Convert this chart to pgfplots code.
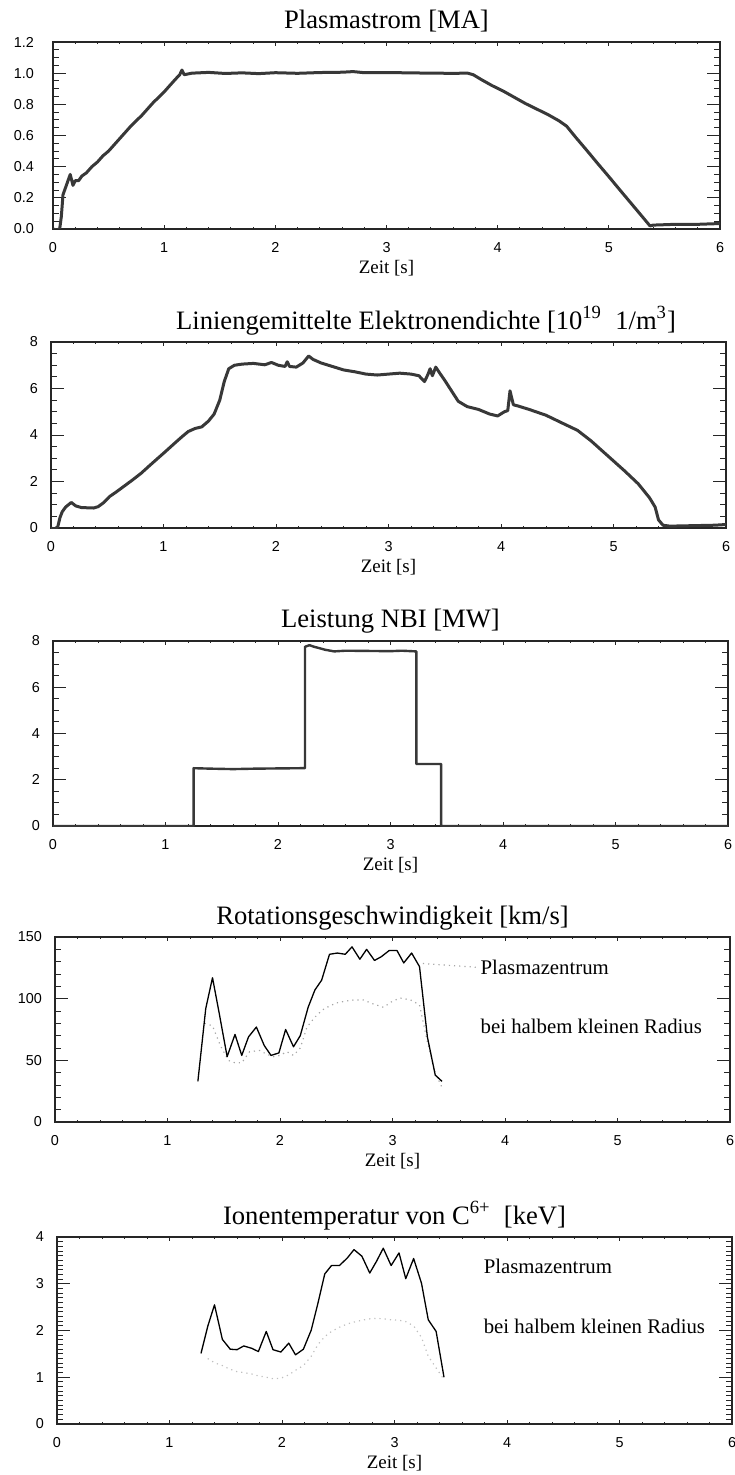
\documentclass[border=0pt]{standalone}
\usepackage{fontspec}
\setmainfont{Liberation Serif}
\newfontfamily\sansf{Liberation Sans}
\usepackage{pgfplots}
\pgfplotsset{compat=1.18}

\newcommand\tickfont{\sansf\fontsize{7.2}{8}\selectfont}
\newcommand\titlefont{\fontsize{13.3}{16}\selectfont}
\newcommand\labfont{\fontsize{9.5}{11}\selectfont}
\newcommand\notefont{\fontsize{10.4}{12}\selectfont}

\pgfplotsset{
  panel/.style={
    scale only axis,
    xmin=0, xmax=6,
    xtick={0,1,2,3,4,5,6},
    minor x tick num=4,
    tick align=inside,
    axis line style={line width=0.7pt, black!85},
    every tick/.style={black!85, line width=0.5pt},
    xtick style={/pgfplots/major tick length=2pt, /pgfplots/minor tick length=1pt},
    ytick style={/pgfplots/major tick length=6.5pt, /pgfplots/minor tick length=3pt},
    tick label style={font=\tickfont},
    /pgf/number format/assume math mode=true,
    xticklabel style={anchor=base, yshift=-11.6pt},
    yticklabel style={anchor=east, xshift=-3pt},
    every axis title shift=0pt,
    title style={at={(0.5,1)}, anchor=base, yshift=6.5pt, font=\titlefont},
    xlabel={Zeit [s]},
    xlabel style={at={(axis description cs:0.5,0)}, anchor=center, yshift=-19.5pt, font=\labfont},
  },
  trace/.style={black!78, line width=1.5pt, line join=round},
  thin trace/.style={black, line width=0.65pt, line join=round},
  faint trace/.style={black!35, line width=0.6pt, dotted},
}

\begin{document}
\begin{tikzpicture}
\useasboundingbox (0,0) rectangle (367pt,-737.5pt);

% Plasmastrom
\begin{axis}[panel,
  at={(26.5pt,-114.5pt)}, anchor=south west, width=333.5pt, height=93.5pt,
  ymin=0, ymax=1.2, ytick={0,0.2,0.4,0.6,0.8,1.0,1.2}, minor y tick num=3,
  yticklabel style={/pgf/number format/fixed, /pgf/number format/fixed zerofill, /pgf/number format/precision=1, xshift=-3pt},
  title={Plasmastrom [MA]}]
\addplot[trace] coordinates {
(0.00,0.000) (0.03,-0.006) (0.06,0.000) (0.075,0.08) (0.09,0.22) (0.11,0.26)
(0.13,0.30) (0.155,0.35) (0.18,0.28) (0.20,0.31) (0.23,0.31) (0.26,0.34)
(0.30,0.36) (0.35,0.40) (0.40,0.43) (0.45,0.47) (0.50,0.50) (0.55,0.54)
(0.60,0.58) (0.65,0.62) (0.70,0.66) (0.75,0.695) (0.80,0.73) (0.85,0.77)
(0.90,0.81) (0.95,0.845) (1.00,0.88) (1.05,0.92) (1.10,0.96) (1.14,0.99)
(1.16,1.02) (1.18,0.99) (1.25,1.00) (1.40,1.005) (1.55,0.998) (1.70,1.002)
(1.85,0.997) (2.00,1.003) (2.20,0.999) (2.40,1.004) (2.60,1.006) (2.70,1.01)
(2.80,1.003) (3.00,1.004) (3.20,1.002) (3.40,1.000) (3.60,0.999) (3.73,1.000)
(3.78,0.99) (3.85,0.96) (3.95,0.92) (4.05,0.885) (4.15,0.845) (4.25,0.805)
(4.35,0.77) (4.45,0.735) (4.55,0.695) (4.62,0.66) (4.70,0.59) (4.80,0.506)
(4.90,0.42) (5.00,0.336) (5.10,0.25) (5.20,0.165) (5.30,0.08) (5.37,0.02)
(5.40,0.025) (5.60,0.03) (5.80,0.03) (6.00,0.035)
};
\end{axis}

% Elektronendichte
\begin{axis}[panel,
  at={(25.5pt,-264pt)}, anchor=south west, width=337.5pt, height=93pt,
  ymin=0, ymax=8, ytick={0,2,4,6,8}, minor y tick num=3,
  title style={xshift=18.75pt},
  title={Liniengemittelte Elektronendichte [10\textsuperscript{19}\ \ 1/m\textsuperscript{3}]}]
\addplot[trace] coordinates {
(0.00,0.00) (0.03,-0.05) (0.06,0.05) (0.08,0.45) (0.10,0.70) (0.13,0.90)
(0.18,1.10) (0.22,0.95) (0.27,0.88) (0.32,0.87) (0.38,0.86) (0.42,0.92)
(0.47,1.10) (0.52,1.35) (0.58,1.55) (0.65,1.80) (0.72,2.05) (0.80,2.35)
(0.88,2.70) (0.95,3.00) (1.02,3.30) (1.10,3.65) (1.17,3.95) (1.22,4.15)
(1.28,4.28) (1.34,4.35) (1.40,4.60) (1.45,4.90) (1.50,5.50) (1.54,6.30)
(1.58,6.85) (1.63,7.00) (1.70,7.05) (1.80,7.08) (1.90,7.02) (1.96,7.12)
(2.02,7.00) (2.08,6.95) (2.10,7.15) (2.12,6.95) (2.18,6.92) (2.24,7.10)
(2.29,7.40) (2.33,7.25) (2.40,7.10) (2.50,6.95) (2.60,6.80) (2.70,6.72)
(2.80,6.62) (2.90,6.58) (3.00,6.62) (3.10,6.66) (3.20,6.62) (3.27,6.55)
(3.32,6.30) (3.35,6.60) (3.37,6.85) (3.39,6.55) (3.42,6.92) (3.45,6.70)
(3.50,6.35) (3.56,5.90) (3.62,5.45) (3.70,5.22) (3.80,5.10) (3.90,4.90)
(3.97,4.82) (4.03,5.00) (4.06,5.05) (4.08,5.90) (4.11,5.30) (4.15,5.25)
(4.25,5.10) (4.40,4.85) (4.55,4.50) (4.68,4.20) (4.80,3.75) (4.95,3.10)
(5.10,2.45) (5.22,1.90) (5.32,1.30) (5.37,0.90) (5.40,0.35) (5.44,0.12)
(5.50,0.08) (5.70,0.10) (5.90,0.12) (6.00,0.15)
};
\end{axis}

% Leistung NBI
\begin{axis}[panel,
  at={(26.5pt,-413pt)}, anchor=south west, width=337.5pt, height=92.5pt,
  ymin=0, ymax=8, ytick={0,2,4,6,8}, minor y tick num=3,
  title={Leistung NBI [MW]}]
\addplot[trace, line width=1.2pt] coordinates {
(0,0) (1.25,0) (1.25,2.50) (1.40,2.48) (1.60,2.46) (1.80,2.48) (2.00,2.49)
(2.20,2.50) (2.24,2.50) (2.24,7.75) (2.28,7.82) (2.32,7.75) (2.36,7.70)
(2.42,7.62) (2.50,7.55) (2.60,7.58) (2.80,7.57) (3.00,7.56) (3.10,7.58)
(3.23,7.55) (3.23,2.68) (3.45,2.68) (3.45,0) (6,0)
};
\end{axis}

% Rotationsgeschwindigkeit
\begin{axis}[panel,
  at={(27.5pt,-561pt)}, anchor=south west, width=337.5pt, height=92.5pt,
  ymin=0, ymax=150, ytick={0,50,100,150}, minor y tick num=4,
  title={Rotationsgeschwindigkeit [km/s]}]
% bei halbem kleinen Radius
\addplot[faint trace] coordinates {
(1.33,80) (1.40,78) (1.47,62) (1.54,50) (1.60,48) (1.66,48) (1.73,57)
(1.82,58) (1.88,55) (1.94,53) (2.00,54) (2.06,57) (2.12,54) (2.18,60)
(2.24,77) (2.31,85) (2.38,91) (2.44,94) (2.50,96.5) (2.58,98) (2.66,99)
(2.74,99) (2.82,96) (2.92,93) (3.00,98) (3.07,100.5) (3.16,99) (3.24,95)
(3.31,65) (3.38,40) (3.44,28)
};
% Plasmazentrum
\addplot[thin trace] coordinates {
(1.27,33) (1.34,92) (1.40,117) (1.46,88) (1.53,53) (1.60,71) (1.66,54)
(1.72,69) (1.79,77) (1.86,62) (1.92,54) (1.99,56) (2.05,75) (2.12,61)
(2.18,70) (2.25,93) (2.31,107) (2.37,115) (2.44,136) (2.51,137) (2.58,136)
(2.64,142) (2.71,132) (2.77,140) (2.84,131) (2.90,134) (2.97,139) (3.04,139)
(3.10,129) (3.17,137) (3.24,126) (3.31,69) (3.38,38) (3.44,33)
};
% leader to the label
\addplot[faint trace] coordinates {(3.27,128.5) (3.74,125.5)};
\node[anchor=base west, inner sep=0pt, font=\notefont] at (axis cs:3.78,119.7) {Plasmazentrum};
\node[anchor=base west, inner sep=0pt, font=\notefont] at (axis cs:3.78,72) {bei halbem kleinen Radius};
\end{axis}

% Ionentemperatur
\begin{axis}[panel,
  at={(28.5pt,-712pt)}, anchor=south west, width=337.5pt, height=93.5pt,
  ymin=0, ymax=4, ytick={0,1,2,3,4}, minor y tick num=9,
  title={Ionentemperatur von C\textsuperscript{6+}\ \ [keV]}]
% bei halbem kleinen Radius
\addplot[faint trace, black!25] coordinates {
(1.34,1.40) (1.40,1.31) (1.47,1.25) (1.53,1.18) (1.60,1.12) (1.66,1.10)
(1.73,1.07) (1.79,1.03) (1.86,1.00) (1.92,0.97) (1.99,0.98) (2.06,1.05)
(2.12,1.15) (2.19,1.25) (2.26,1.45) (2.32,1.70) (2.38,1.87) (2.44,1.98)
(2.51,2.07) (2.58,2.14) (2.64,2.18) (2.71,2.22) (2.78,2.25) (2.84,2.26)
(2.90,2.25) (2.97,2.23) (3.04,2.22) (3.10,2.19) (3.17,2.10) (3.24,1.85)
(3.30,1.45) (3.37,1.20) (3.44,0.95)
};
% Plasmazentrum
\addplot[thin trace] coordinates {
(1.28,1.51) (1.34,2.09) (1.40,2.55) (1.47,1.81) (1.54,1.60) (1.60,1.59)
(1.66,1.67) (1.73,1.62) (1.79,1.55) (1.86,1.98) (1.92,1.59) (1.99,1.54)
(2.06,1.73) (2.12,1.48) (2.19,1.60) (2.26,2.01) (2.32,2.59) (2.38,3.21)
(2.44,3.39) (2.51,3.39) (2.58,3.55) (2.64,3.73) (2.71,3.59) (2.78,3.23)
(2.84,3.48) (2.90,3.76) (2.97,3.39) (3.04,3.66) (3.10,3.11) (3.17,3.54)
(3.24,3.01) (3.30,2.23) (3.37,1.98) (3.44,1.00)
};
\node[anchor=base west, inner sep=0pt, font=\notefont] at (axis cs:3.79,3.21) {Plasmazentrum};
\node[anchor=base west, inner sep=0pt, font=\notefont] at (axis cs:3.79,1.93) {bei halbem kleinen Radius};
\end{axis}
\end{tikzpicture}
\end{document}
